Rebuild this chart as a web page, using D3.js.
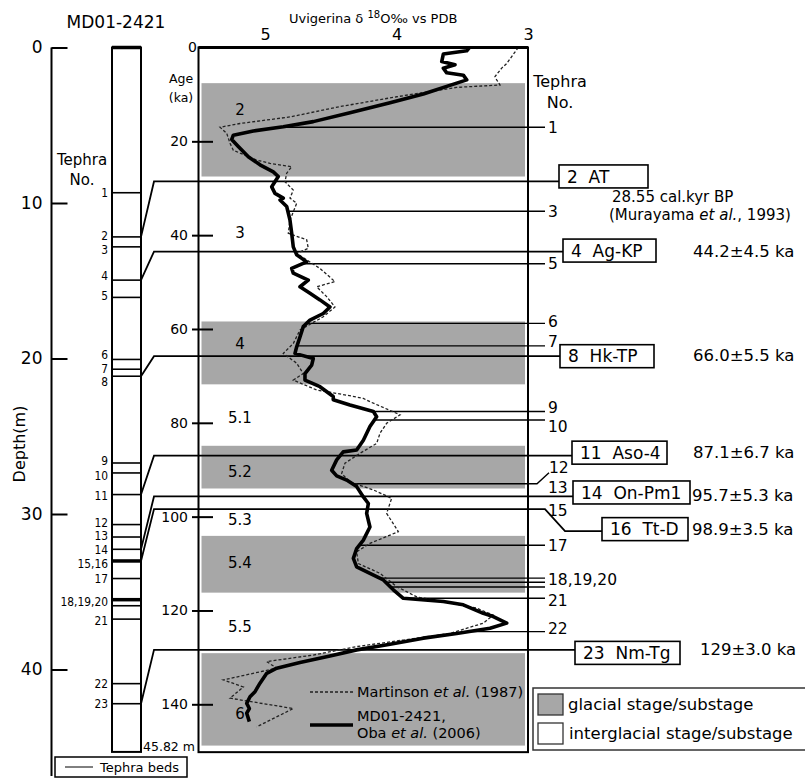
<!DOCTYPE html>
<html>
<head>
<meta charset="utf-8">
<script src="https://cdn.jsdelivr.net/npm/d3@7"></script>
<style>
  body { margin: 0; background: #fff; }
  svg { display: block; font-family: "DejaVu Sans", sans-serif; }
  .tick line { stroke: #000; stroke-width: 2; }
  .tick text { fill: #000; font-family: "DejaVu Sans", sans-serif; }
</style>
</head>
<body>
<div id="chart"></div>
<script>
// ---------- data ----------
const depthTicks = [0, 10, 20, 30, 40];
const ageTicks = [0, 20, 40, 60, 80, 100, 120, 140];
const isoTicks = [5, 4, 3];
const coreBottom = 45.3;   // drawn length of the core column (m)

// tephra beds in the core (depth, m)
const bedLabels = ["1","2","3","4","5","6","7","8","9","10","11","12","13","14","15,16","17","18,19,20","21","22","23"];
const bedDepths = [9.34,12.18,12.82,14.96,16.07,20.06,20.69,21.14,26.72,27.36,28.75,30.68,31.48,32.27,33.02,34.15,35.51,36.76,40.91,42.2];
const thickBeds = ["15,16", "18,19,20"];
const extraBedDepths = [35.9];

// key (boxed) tephras: core depth and age
const keyNames = ["2  AT", "4  Ag-KP", "8  Hk-TP", "11  Aso-4", "14  On-Pm1", "16  Tt-D", "23  Nm-Tg"];
const keyDepths = [12.18, 14.96, 21.14, 28.75, 32.27, 33.02, 42.2];
const keyAges = [28.55, 43.5, 65.8, 87.0, 95.7, 98.4, 128.4];
const keyAgeText = ["", "44.2±4.5 ka", "66.0±5.5 ka", "87.1±6.7 ka", "95.7±5.3 ka", "98.9±3.5 ka", "129±3.0 ka"];

// other tephras on the age scale (ka)
const minorLabels = ["1","3","5","6","7","9","10","17","18,19,20","21","22"];
const minorAges = [17.0, 34.9, 46.1, 58.8, 63.6, 77.6, 79.4, 106.1, 113.1, 117.4, 124.5];
const bed1920Ages = [114.0, 115.0];
const bed12Age = 93.0;

// glacial stages / substages (ka)
const glacialStart = [7.6, 58.4, 84.9, 104.1, 129.1];
const glacialEnd = [27.5, 71.8, 94.0, 116.2, 148.8];
const stageNames = ["2","3","4","5.1","5.2","5.3","5.4","5.5","6"];
const stageAges = [13.3, 39.5, 63.2, 78.8, 90.3, 100.7, 109.9, 123.5, 141.9];

// MD01-2421 Uvigerina d18O (Oba et al. 2006)
const mdAge = [0.0,0.7,1.4,3.0,3.7,4.4,5.4,5.9,6.9,7.6,9.9,11.8,13.9,15.8,16.9,17.8,18.7,19.6,21.1,23.3,25.0,26.5,27.5,29.7,31.1,32.1,
  32.5,33.9,36.8,39.6,42.5,44.2,45.7,47.1,48.1,49.6,51.0,52.4,53.8,55.3,56.7,58.1,59.5,61.7,63.8,65.2,66.3,67.7,69.5,70.9,72.3,74.4,
  75.1,76.2,77.6,78.7,80.8,83.7,85.8,86.2,87.9,90.1,91.3,92.2,93.6,95.8,97.2,99.3,102.2,105.0,106.8,108.9,110.7,112.1,113.5,115.6,117.4,
  118.1,118.8,120.6,121.3,122.7,123.8,124.9,125.9,127.2,128.4,129.7,131.1,132.3,133.4,135.5,137.3,138.4,139.8,140.9,141.9,143.7];
const mdIso = [3.446,3.466,3.644,3.656,3.555,3.644,3.618,3.492,3.466,3.542,3.796,4.049,4.354,4.633,4.861,5.089,5.241,5.253,5.203,5.127,5.038,4.937,4.899,4.949,4.924,4.861,
  4.886,4.835,4.810,4.797,4.785,4.759,4.683,4.797,4.785,4.671,4.734,4.658,4.582,4.506,4.557,4.658,4.709,4.734,4.759,4.772,4.633,4.645,4.696,4.696,4.582,4.481,
  4.481,4.354,4.176,4.151,4.202,4.252,4.303,4.405,4.455,4.493,4.455,4.379,4.303,4.252,4.214,4.227,4.202,4.252,4.303,4.328,4.303,4.202,4.100,4.024,3.948,
  3.644,3.492,3.340,3.264,3.162,3.289,3.542,3.796,4.049,4.303,4.506,4.734,4.911,4.987,5.038,5.076,5.114,5.139,5.119,5.139,5.119];

// Martinson et al. (1987)
const mtAge = [0.0,3.4,4.4,6.2,6.9,8.0,8.5,10.5,12.6,14.8,16.2,17.0,18.3,20.4,21.9,24.0,24.7,25.4,26.8,28.6,30.4,32.1,
  33.2,36.8,39.6,41.0,42.8,43.9,47.1,49.9,51.0,53.1,55.3,57.4,60.2,63.1,65.2,67.3,69.5,70.9,73.0,74.1,74.8,
  75.5,78.3,80.1,82.2,84.4,86.5,88.6,90.8,92.6,94.3,96.1,99.3,103.2,105.7,107.5,110.0,112.1,114.9,117.1,
  119.5,121.0,122.7,124.9,126.3,127.7,129.5,130.9,132.3,134.8,136.3,138.7,140.9,144.8];
const mtIso = [3.074,3.162,3.200,3.251,3.238,3.213,3.542,3.999,4.430,4.810,5.190,5.342,5.291,5.266,5.241,5.063,4.962,4.797,4.835,4.848,4.785,4.810,
  4.759,4.810,4.823,4.683,4.671,4.759,4.582,4.468,4.607,4.531,4.468,4.557,4.734,4.785,4.861,4.759,4.709,4.785,4.607,4.379,4.252,
  4.202,3.973,4.075,4.125,4.151,4.278,4.392,4.417,4.354,4.176,4.037,4.075,3.986,4.202,4.303,4.290,4.125,3.999,3.846,
  3.390,3.264,3.340,3.593,3.948,4.303,4.633,4.987,4.911,5.317,5.165,5.266,4.785,5.063];

// ---------- layout ----------
const W = 805, H = 780;
const svg = d3.select("#chart").append("svg").attr("width", W).attr("height", H);
svg.append("rect").attr("width", W).attr("height", H).attr("fill", "#fff");

const depthY = d3.scaleLinear().domain([0, 40]).range([47.5, 669.5]);
const ageY = d3.scaleLinear().domain([0, 140]).range([47.5, 704.3]);
const isoX = d3.scaleLinear().domain([5, 3]).range([265, 528]);

const panelL = 198.5, panelR = isoX(3), panelT = ageY(0), panelB = ageY(150.2);
const colL = 112, colR = 141, bendX = 154, labelX = 548;

// ---------- depth axis + core column ----------
svg.append("text").attr("x", 116).attr("y", 28).attr("text-anchor", "middle")
  .attr("font-size", 17).text("MD01-2421");

svg.append("line").attr("x1", 51.5).attr("x2", 51.5).attr("y1", depthY(0)).attr("y2", 776)
  .attr("stroke", "#000").attr("stroke-width", 2);
const dAxis = svg.append("g").attr("transform", "translate(51.5,0)")
  .call(d3.axisLeft(depthY).tickValues(depthTicks).tickSizeInner(-16).tickSizeOuter(0).tickPadding(9));
dAxis.select(".domain").remove();
dAxis.selectAll("text").attr("font-size", 17);
dAxis.selectAll(".tick line").filter(d => d === 0).attr("stroke-width", 3.5);

svg.append("text").attr("transform", `translate(25,${depthY(25.5)}) rotate(-90)`)
  .attr("text-anchor", "middle").attr("font-size", 16).text("Depth(m)");

svg.append("text").attr("x", 82).attr("y", 165).attr("text-anchor", "middle").attr("font-size", 15).text("Tephra");
svg.append("text").attr("x", 82).attr("y", 185).attr("text-anchor", "middle").attr("font-size", 15).text("No.");

svg.append("rect").attr("x", colL).attr("y", depthY(0)).attr("width", colR - colL)
  .attr("height", depthY(coreBottom) - depthY(0)).attr("fill", "none").attr("stroke", "#000").attr("stroke-width", 2);
svg.append("line").attr("x1", colL).attr("x2", colR).attr("y1", depthY(0)).attr("y2", depthY(0))
  .attr("stroke", "#000").attr("stroke-width", 3.5);

const bedLines = bedDepths.map((d, i) => ({ d, thick: thickBeds.includes(bedLabels[i]) }))
  .concat(extraBedDepths.map(d => ({ d, thick: false })));
svg.append("g").selectAll("line").data(bedLines).join("line")
  .attr("x1", colL).attr("x2", colR).attr("y1", d => depthY(d.d)).attr("y2", d => depthY(d.d))
  .attr("stroke", "#000").attr("stroke-width", d => d.thick ? 3.5 : 1.6);

const bedDy = { "2": -2, "3": 2, "4": -5, "5": -2, "6": -5, "7": -1, "8": 5.5, "9": -3, "10": 2, "11": 1,
  "12": -2.5, "13": -2, "14": 0.5, "15,16": 2.5, "18,19,20": 2, "21": 1 };
svg.append("g").selectAll("text").data(bedLabels).join("text")
  .attr("transform", (d, i) => `translate(108,${depthY(bedDepths[i]) + (bedDy[d] || 0)}) scale(0.82,1)`)
  .attr("dy", "0.36em").attr("text-anchor", "end").attr("font-size", 13)
  .text(d => d);

svg.append("text").attr("x", 143).attr("y", 751).attr("font-size", 12.5).text("45.82 m");

svg.append("rect").attr("x", 55).attr("y", 757).attr("width", 132).attr("height", 20)
  .attr("fill", "#fff").attr("stroke", "#000").attr("stroke-width", 1.5);
svg.append("line").attr("x1", 65).attr("x2", 93).attr("y1", 767).attr("y2", 767).attr("stroke", "#000").attr("stroke-width", 1);
svg.append("text").attr("x", 100).attr("y", 772).attr("font-size", 13).text("Tephra beds");

// ---------- age panel ----------
svg.append("g").selectAll("rect").data(glacialStart).join("rect")
  .attr("x", panelL + 3).attr("width", panelR - panelL - 6)
  .attr("y", d => ageY(d)).attr("height", (d, i) => ageY(glacialEnd[i]) - ageY(d))
  .attr("fill", "#a7a7a7");

const aAxis = svg.append("g").attr("transform", "translate(192,0)")
  .call(d3.axisLeft(ageY).tickValues(ageTicks).tickSizeInner(-21).tickSizeOuter(0).tickPadding(4));
aAxis.select(".domain").remove();
aAxis.selectAll("text").attr("font-size", 14);
aAxis.selectAll(".tick").filter(d => d === 0).select("line").remove();
aAxis.selectAll(".tick").filter(d => d === 0).select("text").attr("x", 5);

svg.append("text").attr("x", 181).attr("y", 83).attr("text-anchor", "middle").attr("font-size", 12.5).text("Age");
svg.append("text").attr("x", 181).attr("y", 102).attr("text-anchor", "middle").attr("font-size", 12.5).text("(ka)");

const xAxis = svg.append("g").attr("transform", `translate(0,${panelT})`)
  .call(d3.axisTop(isoX).tickValues(isoTicks).tickSize(0).tickPadding(8).tickFormat(d3.format("d")));
xAxis.select(".domain").remove();
xAxis.selectAll("text").attr("font-size", 16);

const title = svg.append("text").attr("x", 289).attr("y", 23).attr("font-size", 13);
title.append("tspan").text("Uvigerina  δ ");
title.append("tspan").attr("dy", -5).attr("font-size", 10).text("18");
title.append("tspan").attr("dy", 5).text("O‰ vs PDB");

svg.append("g").selectAll("text").data(stageNames).join("text")
  .attr("x", 240).attr("y", (d, i) => ageY(stageAges[i])).attr("dy", "0.36em")
  .attr("text-anchor", "middle").attr("font-size", 15).text(d => d);

// interpolate MD01 curve to start minor tephra lines at the curve
function isoAt(age) {
  const i = d3.bisectLeft(mdAge, age);
  if (i <= 0) return mdIso[0];
  if (i >= mdAge.length) return mdIso[mdIso.length - 1];
  const t = (age - mdAge[i - 1]) / (mdAge[i] - mdAge[i - 1]);
  return mdIso[i - 1] + t * (mdIso[i] - mdIso[i - 1]);
}

const tlines = svg.append("g").attr("stroke", "#000").attr("fill", "none");
// minor tephra lines
minorAges.concat(bed1920Ages).forEach(a => {
  tlines.append("line").attr("x1", isoX(isoAt(a))).attr("x2", 545)
    .attr("y1", ageY(a)).attr("y2", ageY(a)).attr("stroke-width", 1.4);
});
tlines.append("path").attr("stroke-width", 1.4)
  .attr("d", `M${isoX(isoAt(bed12Age))},${ageY(bed12Age)}H537L549,${ageY(bed12Age) - 11}`);

// key tephra connectors: core -> age panel -> box
const boxX = [559, 563, 560, 572, 573, 602, 575];
const boxW = [89, 93, 94, 95, 117, 86, 105];
const boxDy = [-5, -1, 0, -3, -4, 20, 3];
keyNames.forEach((name, i) => {
  const y0 = depthY(keyDepths[i]), y1 = ageY(keyAges[i]);
  let d = `M${colR},${y0}L${bendX},${y1}`;
  if (name.indexOf("Tt-D") >= 0) d += `H545L565,${y1 + 22}H${boxX[i]}`;
  else d += `H${boxX[i]}`;
  tlines.append("path").attr("d", d).attr("stroke-width", 1.8);
});

// curves
const line = d3.line().x(d => isoX(d[1])).y(d => ageY(d[0]));
svg.append("path").datum(d3.zip(mtAge, mtIso)).attr("d", line)
  .attr("fill", "none").attr("stroke", "#222").attr("stroke-width", 1.3).attr("stroke-dasharray", "3,2");
svg.append("path").datum(d3.zip(mdAge, mdIso)).attr("d", line)
  .attr("fill", "none").attr("stroke", "#000").attr("stroke-width", 3.6).attr("stroke-linejoin", "round");

// panel frame
svg.append("rect").attr("x", panelL).attr("y", panelT).attr("width", panelR - panelL).attr("height", panelB - panelT)
  .attr("fill", "none").attr("stroke", "#000").attr("stroke-width", 2);
svg.append("line").attr("x1", panelL).attr("x2", panelR).attr("y1", panelT).attr("y2", panelT)
  .attr("stroke", "#000").attr("stroke-width", 3);

// curve legend
svg.append("line").attr("x1", 310).attr("x2", 353).attr("y1", 692).attr("y2", 692)
  .attr("stroke", "#222").attr("stroke-width", 1.3).attr("stroke-dasharray", "3,2");
svg.append("line").attr("x1", 310).attr("x2", 353).attr("y1", 725).attr("y2", 725)
  .attr("stroke", "#000").attr("stroke-width", 3.6);
const lg1 = svg.append("text").attr("x", 357).attr("y", 697).attr("font-size", 14.5);
lg1.append("tspan").text("Martinson ");
lg1.append("tspan").attr("font-style", "italic").text("et al.");
lg1.append("tspan").text(" (1987)");
svg.append("text").attr("x", 357).attr("y", 721).attr("font-size", 14.5).text("MD01-2421,");
const lg2 = svg.append("text").attr("x", 357).attr("y", 738).attr("font-size", 14.5);
lg2.append("tspan").text("Oba ");
lg2.append("tspan").attr("font-style", "italic").text("et al.");
lg2.append("tspan").text(" (2006)");

// ---------- right-hand labels ----------
svg.append("text").attr("x", 560).attr("y", 87).attr("text-anchor", "middle").attr("font-size", 16).text("Tephra");
svg.append("text").attr("x", 560).attr("y", 108).attr("text-anchor", "middle").attr("font-size", 16).text("No.");

const minorDy = { "6": -2, "7": -4, "9": -4, "10": 6, "18,19,20": 1, "21": 2, "22": -3 };
svg.append("g").selectAll("text").data(minorLabels).join("text")
  .attr("x", labelX).attr("y", (d, i) => ageY(minorAges[i]) + (minorDy[d] || 0))
  .attr("dy", "0.36em").attr("font-size", 15.5).text(d => d);
svg.append("text").attr("x", labelX + 1).attr("y", ageY(bed12Age) - 16).attr("dy", "0.36em").attr("font-size", 15.5).text("12");
svg.append("text").attr("x", labelX).attr("y", ageY(keyAges[4]) - 9).attr("dy", "0.36em").attr("font-size", 15.5).text("13");
svg.append("text").attr("x", labelX).attr("y", ageY(keyAges[5]) + 1).attr("dy", "0.36em").attr("font-size", 15.5).text("15");

keyNames.forEach((name, i) => {
  const cy = ageY(keyAges[i]) + boxDy[i];
  const g = svg.append("g");
  g.append("rect").attr("x", boxX[i]).attr("y", cy - 11.5)
    .attr("width", boxW[i]).attr("height", 23)
    .attr("fill", "#fff").attr("stroke", "#000").attr("stroke-width", 1.6);
  g.append("text").attr("x", boxX[i] + 8).attr("y", cy).attr("dy", "0.36em")
    .attr("font-size", 17).style("white-space", "pre").text(name);
  if (keyAgeText[i]) {
    const tx = i === 6 ? 700 : (i === 4 || i === 5) ? 692 : 693;
    svg.append("text").attr("x", tx).attr("y", ageY(keyAges[i]) + (i === 5 ? 20 : i === 3 ? -4 : -1))
      .attr("dy", "0.36em").attr("font-size", 16.5).text(keyAgeText[i]);
  }
});
svg.append("text").attr("x", 612).attr("y", 202).attr("font-size", 15).text("28.55 cal.kyr BP");
const mur = svg.append("text").attr("x", 609).attr("y", 220).attr("font-size", 15);
mur.append("tspan").text("(Murayama ");
mur.append("tspan").attr("font-style", "italic").text("et al.");
mur.append("tspan").text(", 1993)");

// stage legend
svg.append("rect").attr("x", 533).attr("y", 688).attr("width", 290).attr("height", 62)
  .attr("fill", "#fff").attr("stroke", "#333").attr("stroke-width", 1.5);
svg.append("rect").attr("x", 538).attr("y", 694).attr("width", 25).attr("height", 21)
  .attr("fill", "#a7a7a7").attr("stroke", "#333").attr("stroke-width", 1.3);
svg.append("rect").attr("x", 538).attr("y", 723).attr("width", 25).attr("height", 21)
  .attr("fill", "#fff").attr("stroke", "#333").attr("stroke-width", 1.3);
svg.append("text").attr("x", 568).attr("y", 710).attr("font-size", 16.5).text("glacial stage/substage");
svg.append("text").attr("x", 569).attr("y", 739).attr("font-size", 16.5).text("interglacial stage/substage");
</script>
</body>
</html>
